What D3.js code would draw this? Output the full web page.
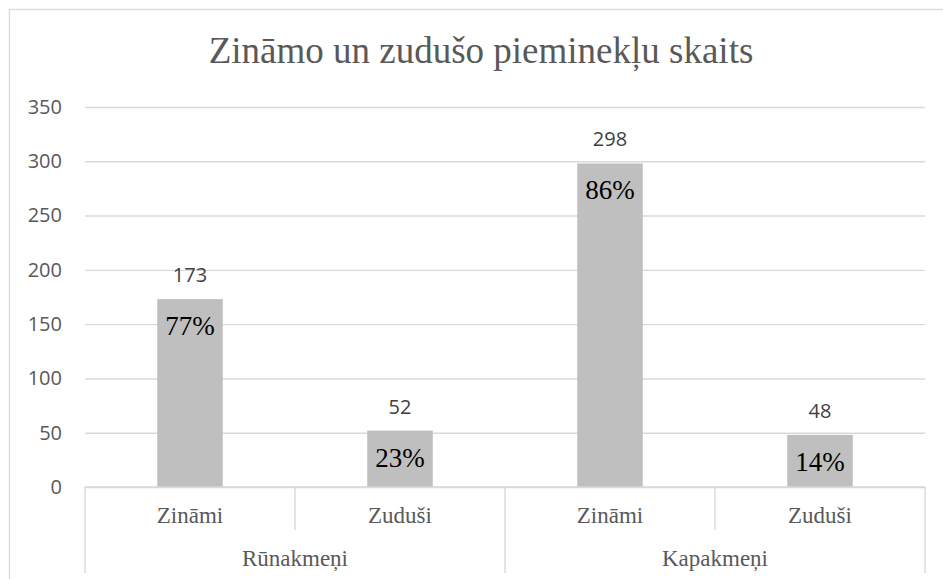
<!DOCTYPE html>
<html lang="lv">
<head>
<meta charset="utf-8">
<title>Zināmo un zudušo pieminekļu skaits</title>
<script src="https://d3js.org/d3.v7.min.js"></script>
</head>
<body style="margin:0">
<div id="main"></div>
<script>
var width = 943, height = 579;

var groups = ["Rūnakmeņi", "Kapakmeņi"];
var subs = ["Zināmi", "Zuduši"];
var values = [173, 52, 298, 48];
var percents = ["77%", "23%", "86%", "14%"];
var yTicks = [0, 50, 100, 150, 200, 250, 300, 350];

var margin = {left: 85, right: 18, top: 107, bottom: 92};
var plotW = width - margin.left - margin.right;
var axisY = height - margin.bottom;
var serif = "Liberation Serif", sans = "Open Sans";
var lineColor = "#d9d9d9";

var svg = d3.select("#main").append("svg")
  .attr("width", width).attr("height", height);

// chart border (right and bottom edges fall outside the picture)
svg.append("rect")
  .attr("x", 9.5).attr("y", 9.5)
  .attr("width", 960).attr("height", 600)
  .attr("fill", "white").attr("stroke", lineColor).attr("stroke-width", 1.3);

svg.append("text")
  .attr("x", 481).attr("y", 63)
  .attr("text-anchor", "middle")
  .attr("font-family", serif).attr("font-size", 37).attr("fill", "#595959")
  .text("Zināmo un zudušo pieminekļu skaits");

var y = d3.scaleLinear().domain([0, 350]).range([axisY, margin.top]);

var cats = [];
groups.forEach(function(g, gi) {
  subs.forEach(function(s, si) { cats.push({g: g, s: s, i: gi * 2 + si}); });
});

var x = d3.scaleBand().domain(cats.map(d => d.i))
  .range([margin.left, margin.left + plotW]).paddingInner(0).paddingOuter(0);
var barW = x.bandwidth() * 0.312;

// gridlines + value axis
var yAxis = svg.append("g").attr("transform", "translate(" + margin.left + ",0)")
  .call(d3.axisLeft(y).tickValues(yTicks).tickSize(-plotW).tickPadding(23));
yAxis.select(".domain").remove();
yAxis.selectAll(".tick line").attr("stroke", lineColor).attr("stroke-width", 1.4);
yAxis.selectAll(".tick text")
  .attr("font-family", sans).attr("font-size", 20).attr("fill", "#595959");

// bars
svg.selectAll("rect.bar").data(cats).enter().append("rect")
  .attr("class", "bar")
  .attr("x", d => x(d.i) + (x.bandwidth() - barW) / 2)
  .attr("width", barW)
  .attr("y", d => y(values[d.i]))
  .attr("height", d => axisY - y(values[d.i]))
  .attr("fill", "#bfbfbf");

svg.selectAll("text.val").data(cats).enter().append("text")
  .attr("class", "val")
  .attr("x", d => x(d.i) + x.bandwidth() / 2)
  .attr("y", d => y(values[d.i]) - 17)
  .attr("text-anchor", "middle")
  .attr("font-family", sans).attr("font-size", 20).attr("fill", "#404040")
  .text(d => values[d.i]);

svg.selectAll("text.pct").data(cats).enter().append("text")
  .attr("class", "pct")
  .attr("x", d => x(d.i) + x.bandwidth() / 2)
  .attr("y", d => y(values[d.i]) + 36)
  .attr("text-anchor", "middle")
  .attr("font-family", serif).attr("font-size", 27).attr("fill", "#000")
  .text(d => percents[d.i]);

// category axis
svg.append("line")
  .attr("x1", margin.left).attr("x2", margin.left + plotW)
  .attr("y1", axisY).attr("y2", axisY)
  .attr("stroke", lineColor).attr("stroke-width", 1.4);

cats.forEach(function(d) {
  var left = x(d.i);
  svg.append("line")
    .attr("x1", left).attr("x2", left)
    .attr("y1", axisY).attr("y2", d.i % 2 === 0 ? 573 : 530)
    .attr("stroke", lineColor).attr("stroke-width", 1.4);
});
svg.append("line")
  .attr("x1", margin.left + plotW).attr("x2", margin.left + plotW)
  .attr("y1", axisY).attr("y2", 573)
  .attr("stroke", lineColor).attr("stroke-width", 1.4);

svg.selectAll("text.sub").data(cats).enter().append("text")
  .attr("class", "sub")
  .attr("x", d => x(d.i) + x.bandwidth() / 2)
  .attr("y", 523)
  .attr("text-anchor", "middle")
  .attr("font-family", serif).attr("font-size", 23).attr("fill", "#595959")
  .text(d => d.s);

svg.selectAll("text.grp").data(groups).enter().append("text")
  .attr("class", "grp")
  .attr("x", (d, i) => x(i * 2) + x.bandwidth())
  .attr("y", 566)
  .attr("text-anchor", "middle")
  .attr("font-family", serif).attr("font-size", 23).attr("fill", "#595959")
  .text(d => d);
</script>
</body>
</html>
